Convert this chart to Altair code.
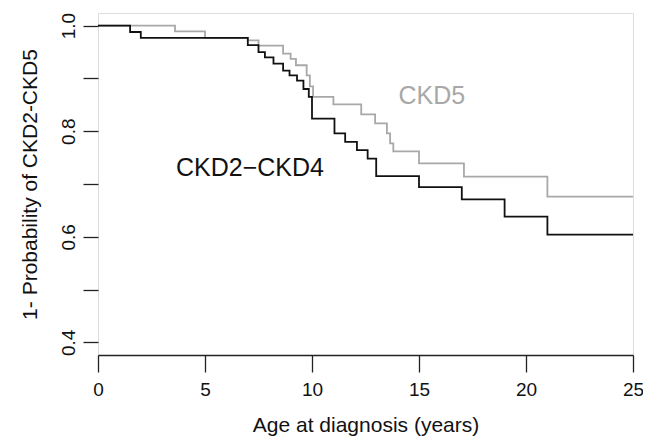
import altair as alt
import pandas as pd

# CKD2-CKD4 (black) Kaplan-Meier steps
ckd24_t = [0, 1.5, 2.0, 7.0, 7.5, 7.8, 8.2, 8.65, 8.95, 9.3, 9.6, 9.85, 10.0, 11.05, 11.55, 12.1, 12.6, 13.0, 15.0, 17.0, 19.0, 21.0, 25.0]
ckd24_s = [1.0, 0.988, 0.977, 0.963, 0.950, 0.940, 0.928, 0.915, 0.906, 0.896, 0.880, 0.865, 0.824, 0.796, 0.780, 0.764, 0.748, 0.715, 0.694, 0.671, 0.638, 0.604, 0.604]

# CKD5 (gray)
ckd5_t = [0, 3.6, 5.0, 7.0, 7.5, 8.65, 9.0, 9.25, 9.75, 9.9, 10.05, 11.0, 12.3, 12.95, 13.5, 13.65, 13.8, 15.0, 17.1, 21.0, 25.0]
ckd5_s = [1.0, 0.989, 0.977, 0.972, 0.962, 0.947, 0.937, 0.925, 0.906, 0.885, 0.865, 0.851, 0.832, 0.815, 0.796, 0.777, 0.762, 0.739, 0.714, 0.676, 0.676]

series = ["CKD5", "CKD2\u2212CKD4"]
colors = ["#a8a8a8", "#111111"]

label_text = ["CKD5", "CKD2\u2212CKD4"]
label_x = [15.6, 7.1]
label_y = [0.866, 0.730]

x_ticks = [0, 5, 10, 15, 20, 25]
y_ticks = [0.4, 0.5, 0.6, 0.7, 0.8, 0.9, 1.0]

df = pd.concat([
    pd.DataFrame({"t": ckd5_t, "s": ckd5_s, "g": series[0], "o": 0}),
    pd.DataFrame({"t": ckd24_t, "s": ckd24_s, "g": series[1], "o": 1}),
])
lab = pd.DataFrame({"x": label_x, "y": label_y, "text": label_text, "g": series})

FONT = "Liberation Sans"

xscale = alt.Scale(domain=[0, 25], nice=False, zero=False)
yscale = alt.Scale(domain=[0.376, 1.024], nice=False, zero=False)
cscale = alt.Scale(domain=series, range=colors)

xaxis = alt.Axis(values=x_ticks, tickSize=17, tickWidth=1.3, tickColor="#222",
                 domainColor="#222", domainWidth=1.5,
                 labelFontSize=19, labelPadding=8, labelColor="#111", labelFlush=False,
                 titleFontSize=21, titleFontWeight="normal", titleColor="#111",
                 titlePadding=15, grid=False, format="d")
yaxis = alt.Axis(values=y_ticks, tickSize=15, tickWidth=1.3, tickColor="#222",
                 domain=False,
                 labelExpr="(round(datum.value*10) % 2 == 0) ? format(datum.value, '.1f') : ''",
                 labelAngle=270, labelAlign="center", labelBaseline="bottom",
                 labelFontSize=19, labelPadding=5, labelColor="#111",
                 titleFontSize=21, titleFontWeight="normal", titleColor="#111",
                 titleAngle=270, titleBaseline="middle", titleX=-68, titleY=171,
                 grid=False)

lines = alt.Chart(df).mark_line(interpolate="step-after", strokeWidth=1.8).encode(
    x=alt.X("t:Q", scale=xscale, axis=xaxis, title="Age at diagnosis (years)"),
    y=alt.Y("s:Q", scale=yscale, axis=yaxis, title="1- Probability of CKD2-CKD5"),
    color=alt.Color("g:N", scale=cscale, legend=None),
    order="o:Q",
    detail="g:N",
)

texts = alt.Chart(lab).mark_text(fontSize=25, font=FONT, align="center", baseline="middle").encode(
    x=alt.X("x:Q", scale=xscale),
    y=alt.Y("y:Q", scale=yscale),
    text="text:N",
    color=alt.Color("g:N", scale=cscale, legend=None),
)

chart = alt.layer(lines, texts).properties(
    width=535, height=342,
    autosize=alt.AutoSizeParams(type="none"),
    padding={"left": 90, "top": 5, "right": 10, "bottom": 90},
).configure_view(
    stroke="#222", strokeWidth=1.5
).configure_axis(
    labelFont=FONT, titleFont=FONT
).configure(background="white")

chart.save("out.html", embed_options={"renderer": "svg", "actions": False})
